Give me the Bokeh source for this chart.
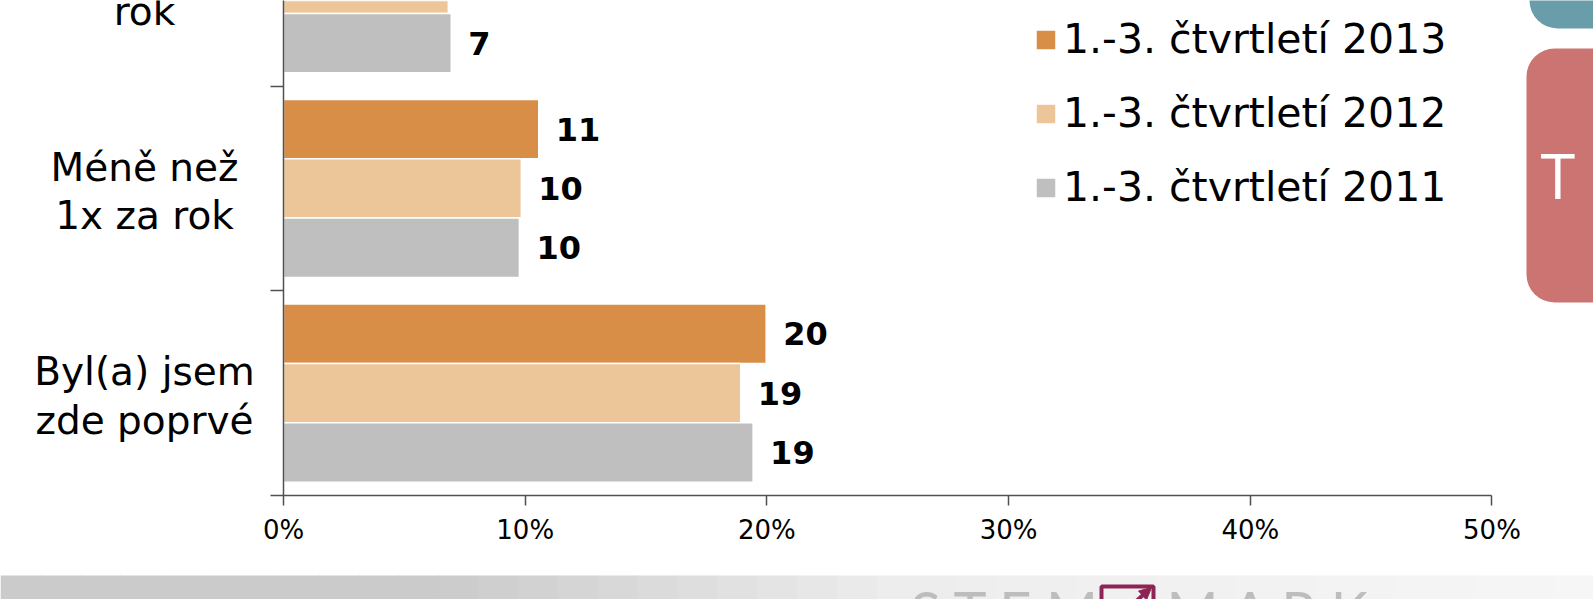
import numpy as np
from bokeh.plotting import figure
from bokeh.layouts import column, row
from bokeh.models import (ColumnDataSource, Range1d, FixedTicker, PrintfTickFormatter,
                          Legend, LegendItem, Label, BoxAnnotation, Arrow, NormalHead)
from bokeh.transform import dodge
from bokeh.core.properties import value
from bokeh.embed import file_html
from bokeh.resources import INLINE

# ---------------- data ----------------
categories = ["Byl(a) jsem\nzde poprvé", "Méně než\n1x za rok", "Jednou za\nrok"]
cat_pos = [0.5, 1.5, 2.5]
series_names = ["1.-3. čtvrtletí 2013", "1.-3. čtvrtletí 2012", "1.-3. čtvrtletí 2011"]
v2013 = [19.97, 10.56, float("nan")]
v2012 = [18.92, 9.84, 6.82]
v2011 = [19.43, 9.76, 6.94]
x_ticks = [0, 10, 20, 30, 40, 50]
cat_bounds = [0, 1, 2, 3]

colors = ["#D98E48", "#ECC699", "#BFBFBF"]
offsets = [0.29, 0.0, -0.29]
BAR_H = 0.29


def lab(vals):
    return ["" if np.isnan(v) else str(int(round(v))) for v in vals]


src = ColumnDataSource(dict(
    y=cat_pos,
    v2013=v2013, v2012=v2012, v2011=v2011,
    l2013=lab(v2013), l2012=lab(v2012), l2011=lab(v2011),
))
cat_src = ColumnDataSource(dict(y=cat_pos, name=categories))

# ---------------- geometry ----------------
W, H = 1593, 599
LEFT_W = 253          # width of the category-label panel
AXIS_GAP = 30         # main figure border holding the y axis
FRAME_H = 495         # canvas y of the x axis
MAIN_H = 574          # main figure height; band below
BAND_H = H - MAIN_H

y_range = Range1d(0, 2.418)

# ---------------- main figure ----------------
p = figure(width=W - LEFT_W, height=MAIN_H, output_backend="svg", toolbar_location=None,
           x_range=Range1d(0, 54.2), y_range=y_range,
           min_border_left=AXIS_GAP, min_border_right=0, min_border_top=0,
           min_border_bottom=MAIN_H - FRAME_H)
p.outline_line_color = None
p.grid.visible = False
p.background_fill_color = "white"
p.border_fill_color = "white"

axis_col = "#505050"
xa = p.xaxis[0]
xa.ticker = FixedTicker(ticks=x_ticks)
xa.formatter = PrintfTickFormatter(format="%d%%")
xa.bounds = (0, 50)
xa.axis_line_color = axis_col
xa.axis_line_width = 1.5
xa.major_tick_line_color = axis_col
xa.major_tick_line_width = 1.5
xa.major_tick_in = 0
xa.major_tick_out = 10
xa.minor_tick_line_color = None
xa.major_label_text_font = "DejaVu Sans"
xa.major_label_text_font_size = "26px"
xa.major_label_text_color = "black"
xa.major_label_standoff = 9

ya = p.yaxis[0]
ya.ticker = FixedTicker(ticks=cat_bounds)
ya.major_label_overrides = {b: "" for b in cat_bounds}
ya.axis_line_color = axis_col
ya.axis_line_width = 1.5
ya.major_tick_line_color = axis_col
ya.major_tick_line_width = 1.5
ya.major_tick_in = 0
ya.major_tick_out = 13
ya.minor_tick_line_color = None
ya.major_label_text_font_size = "0px"
ya.major_label_text_color = None

keys = ["2013", "2012", "2011"]
renderers = []
for k, c, off in zip(keys, colors, offsets):
    r = p.hbar(y=dodge("y", off), left=0, right="v" + k, height=BAR_H, source=src,
               fill_color=c, line_color="white", line_width=1.5)
    renderers.append(r)
    p.text(x="v" + k, y=dodge("y", off), text="l" + k, source=src,
           x_offset=17, text_baseline="middle", text_align="left",
           text_font=value("DejaVu Sans"), text_font_style="bold",
           text_font_size="32px", text_color="black")

legend = Legend(items=[LegendItem(label=n, renderers=[r]) for n, r in zip(series_names, renderers)],
                location=(750, 284), orientation="vertical",
                label_text_font="DejaVu Sans", label_text_font_size="41px",
                label_text_color="black",
                glyph_width=25, glyph_height=25, label_standoff=5, spacing=26,
                padding=0, margin=0, border_line_color=None, background_fill_alpha=0)
p.add_layout(legend)

# slide decorations at the right edge (inside the frame)
FL = LEFT_W + AXIS_GAP


def sx(x):
    return x - FL


def sy(y):
    return FRAME_H - y


p.add_layout(BoxAnnotation(left=sx(1529), right=sx(1700), top=sy(-40), bottom=sy(28),
                           left_units="screen", right_units="screen", top_units="screen",
                           bottom_units="screen", fill_color="#6A9DAA", fill_alpha=1,
                           line_color=None, border_radius=28))
p.add_layout(BoxAnnotation(left=sx(1526), right=sx(1700), top=sy(48), bottom=sy(302),
                           left_units="screen", right_units="screen", top_units="screen",
                           bottom_units="screen", fill_color="#CB7471", fill_alpha=1,
                           line_color=None, border_radius=28))
p.add_layout(Label(x=sx(1540), y=sy(174), x_units="screen", y_units="screen", text="T",
                   text_font="Open Sans", text_font_size="63px", text_color="white",
                   text_baseline="middle", text_align="left"))

# ---------------- category-label panel ----------------
lp = figure(width=LEFT_W, height=MAIN_H, output_backend="svg", toolbar_location=None,
            x_range=Range1d(0, LEFT_W), y_range=y_range,
            x_axis_location=None, y_axis_location=None,
            min_border_left=0, min_border_right=0, min_border_top=0,
            min_border_bottom=MAIN_H - FRAME_H)
lp.outline_line_color = None
lp.grid.visible = False
lp.border_fill_color = "white"
lp.text(x=0, y="y", text="name", source=cat_src, x_offset=144, y_offset=3,
        text_align="center", text_baseline="middle", text_line_height=1.08,
        text_font=value("DejaVu Sans"), text_font_size="39px", text_color="black")

# ---------------- bottom band with logo ----------------
bp = figure(width=W, height=BAND_H, output_backend="svg", toolbar_location=None,
            x_range=Range1d(0, W), y_range=Range1d(0, BAND_H),
            x_axis_location=None, y_axis_location=None,
            min_border_left=0, min_border_right=0, min_border_top=0, min_border_bottom=0)
bp.outline_line_color = None
bp.grid.visible = False
bp.border_fill_color = "white"
bp.background_fill_color = "white"

edges = np.linspace(0, W, 41)
mids = (edges[:-1] + edges[1:]) / 2
grey = np.interp(mids, [0, 450, 900, W], [203, 203, 237, 246]).round().astype(int)
bp.quad(left=edges[:-1], right=edges[1:] + 1, bottom=0, top=BAND_H - 1,
        fill_color=[(g, g, g) for g in grey], line_color=None)
bp.text(x=[910, 1166], y=[BAND_H - 2, BAND_H - 2], text=["S T E M", "M A R K"],
        text_baseline="top", text_align="left", text_font=value("Lato"),
        text_font_size="56px", text_color="#BDBDBD")
bp.quad(left=[1101], right=[1153], top=[BAND_H - 12], bottom=[-40],
        fill_color=None, line_color="#8E2454", line_width=4)
bp.add_layout(Arrow(x_start=1124, y_start=-12, x_end=1151, y_end=BAND_H - 13,
                    line_color="#8E2454", line_width=4,
                    end=NormalHead(size=12, fill_color="#8E2454", line_color="#8E2454")))

layout = column(row(lp, p), bp)
open("out.html", "w").write(file_html(layout, INLINE))
